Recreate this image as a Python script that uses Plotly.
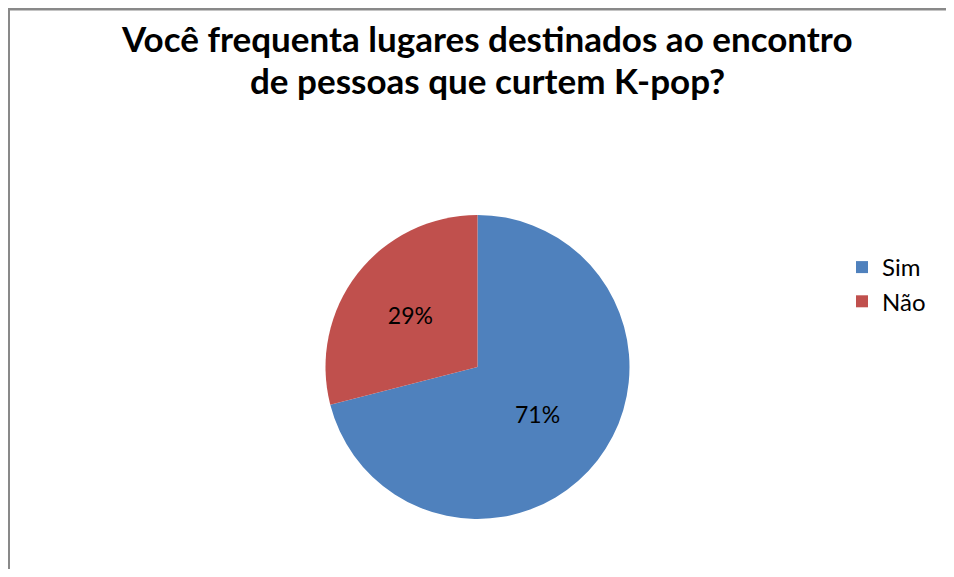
import plotly.graph_objects as go

OFF = 8  # page body margin that the browser adds round the figure
W, H = 954 - 2 * OFF, 577 - 2 * OFF  # keep the figure inside the window, no scrollbars

categories = ["Sim", "Não"]
values = [71, 29]
colors = ["#4F81BD", "#C0504D"]

title_lines = [
    "Você frequenta lugares destinados ao encontro",
    "de pessoas que curtem K-pop?",
]


def px_x(x):
    return (x - OFF) / W


def px_y(y):
    return 1 - (y - OFF) / H


fig = go.Figure(
    go.Pie(
        labels=categories,
        values=values,
        sort=False,
        direction="clockwise",
        rotation=0,
        marker=dict(colors=colors, line=dict(width=0)),
        texttemplate="%{percent:.0%}",
        textposition="inside",
        insidetextorientation="horizontal",
        textfont=dict(family="Lato, Open Sans, sans-serif", size=23, color="black"),
        domain=dict(x=[px_x(325.5), px_x(629.5)], y=[px_y(519), px_y(215)]),
        hoverinfo="label+percent",
    )
)

# title as two centred lines, Excel-style
title_font = dict(family="Lato, Open Sans, sans-serif", size=35, color="black", weight="bold")
for line, y in zip(title_lines, [38, 80]):
    fig.add_annotation(text=line, x=px_x(487), y=px_y(y), xref="paper", yref="paper",
                       xanchor="center", yanchor="middle", showarrow=False, font=title_font)

# chart-area frame: only its top and left edges fall inside the window
frame = dict(color="#898989", width=3)
fig.add_shape(type="line", xref="paper", yref="paper",
              x0=px_x(7), x1=1, y0=px_y(9), y1=px_y(9), line=frame)
fig.add_shape(type="line", xref="paper", yref="paper",
              x0=px_x(8.5), x1=px_x(8.5), y0=px_y(7.5), y1=0, line=frame)

fig.update_layout(
    width=W,
    height=H,
    margin=dict(l=0, r=0, t=0, b=0, autoexpand=False),
    paper_bgcolor="white",
    plot_bgcolor="white",
    font=dict(family="Lato, Open Sans, sans-serif", color="black"),
    legend=dict(
        x=px_x(842),
        xanchor="left",
        y=px_y(245),
        yanchor="top",
        font=dict(size=24, color="black"),
        itemwidth=30,
        tracegroupgap=0,
        bgcolor="rgba(0,0,0,0)",
    ),
)

fig.write_html("out.html")
